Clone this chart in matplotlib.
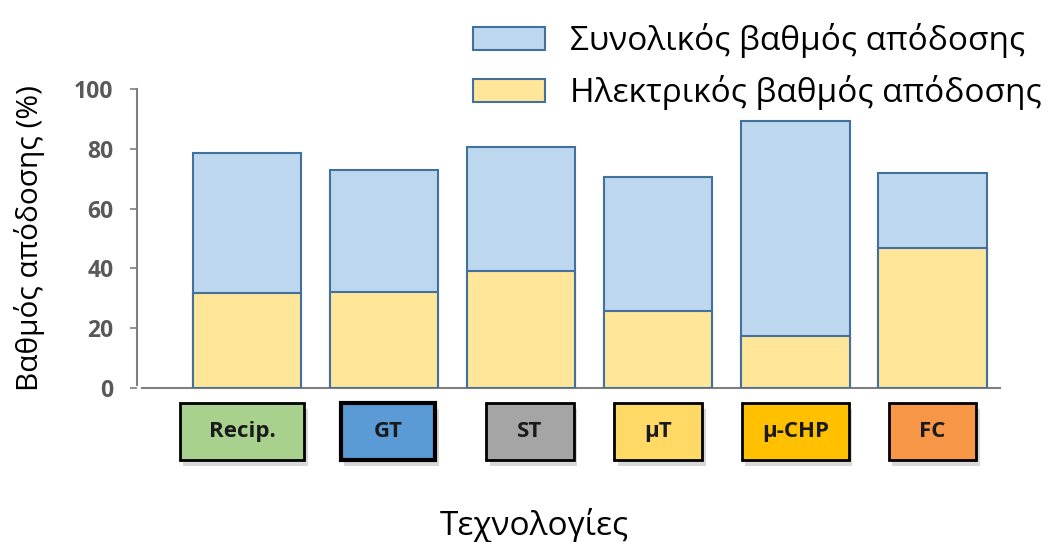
import matplotlib
matplotlib.use("Agg")
import matplotlib.pyplot as plt
from matplotlib.patches import Rectangle, Patch
from matplotlib.transforms import blended_transform_factory

plt.rcParams['font.family'] = ['Open Sans', 'DejaVu Sans']

# data
technologies = ["Recip.", "GT", "ST", "μT", "μ-CHP", "FC"]
total_eff = [78.6, 72.9, 80.6, 70.6, 89.3, 71.9]
electric_eff = [31.8, 32.1, 39.1, 25.8, 17.4, 46.8]
yticks = [0, 20, 40, 60, 80, 100]

# styles for the category boxes under the axis
box_colors = ["#A9D18E", "#5B9BD5", "#A5A5A5", "#FFD966", "#FFC000", "#F79646"]
box_widths = [0.91, 0.69, 0.64, 0.64, 0.78, 0.64]
box_shift = [-0.035, 0.03, 0.065, 0.0, 0.0, 0.0]
box_lw = [2.0, 3.0, 2.0, 2.0, 2.0, 2.0]

blue = "#BDD7EE"
yellow = "#FFE699"
edge = "#41719C"

fig = plt.figure(figsize=(10.58, 5.42), dpi=100)
ax = fig.add_axes([0.1295, 0.284, 0.8155, 0.552])

x = list(range(len(technologies)))
ax.bar(x, total_eff, width=0.79, color=blue, edgecolor=edge, linewidth=1.5, zorder=2)
ax.bar(x, electric_eff, width=0.79, color=yellow, edgecolor=edge, linewidth=1.5, zorder=3)

ax.set_xlim(-0.80, 5.49)
ax.set_ylim(0, 100)
ax.set_yticks(yticks)
ax.set_yticklabels([str(t) for t in yticks], fontsize=16.5, fontweight='bold', color='#595959')
ax.tick_params(axis='y', length=5, width=1.2, color='#7f7f7f', pad=12)
ax.set_xticks([])
for s in ['top', 'right']:
    ax.spines[s].set_visible(False)
ax.spines['left'].set_color('#7f7f7f')
ax.spines['left'].set_linewidth(1.5)
ax.spines['bottom'].set_color('#7f7f7f')
ax.spines['bottom'].set_linewidth(1.5)
ax.spines['left'].set_bounds(1, 100)
ax.spines['bottom'].set_bounds(-0.76, 5.49)

ax.set_ylabel("Βαθμός απόδοσης (%)", fontsize=21.5)
ax.yaxis.set_label_coords(-0.107, 0.5)

# category boxes below the axis
trans = blended_transform_factory(ax.transData, ax.transAxes)
box_bottom = -0.24
box_h = 0.19
for i, name in enumerate(technologies):
    w = box_widths[i]
    cx = i + box_shift[i]
    shadow = Rectangle((cx - w / 2 + 0.025, box_bottom - 0.02), w, box_h, transform=trans,
                       facecolor='#c8c8c8', edgecolor='none', clip_on=False, zorder=4, alpha=0.7)
    ax.add_patch(shadow)
    r = Rectangle((cx - w / 2, box_bottom), w, box_h, transform=trans,
                  facecolor=box_colors[i], edgecolor='black', linewidth=box_lw[i],
                  clip_on=False, zorder=5)
    ax.add_patch(r)
    ax.text(cx, box_bottom + box_h / 2, name, transform=trans, ha='center', va='center',
            fontsize=16, fontweight='bold', color='#1a1a1a', zorder=6)

fig.text(0.505, 0.03, "Τεχνολογίες", ha='center', va='center', fontsize=24)

handles = [Patch(facecolor=blue, edgecolor=edge, linewidth=1.5),
           Patch(facecolor=yellow, edgecolor=edge, linewidth=1.5)]
fig.legend(handles, ["Συνολικός βαθμός απόδοσης", "Ηλεκτρικός βαθμός απόδοσης"],
           loc='upper left', bbox_to_anchor=(0.425, 1.0), frameon=False, fontsize=24,
           handlelength=2.15, handleheight=0.68, labelspacing=0.5, handletextpad=0.75,
           borderaxespad=0.3)

fig.savefig("out.png", dpi=100)
